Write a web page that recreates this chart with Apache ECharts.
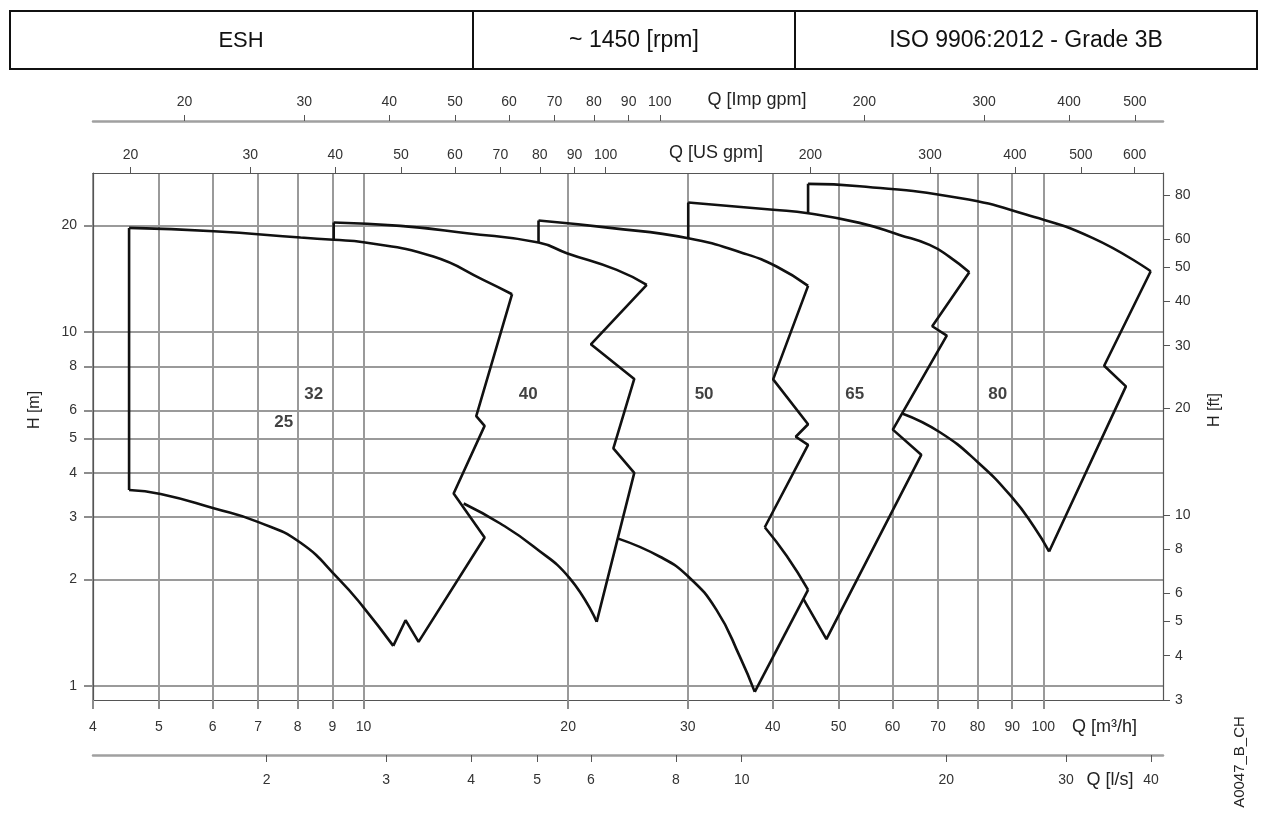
<!DOCTYPE html>
<html>
<head>
<meta charset="utf-8">
<title>ESH ~1450 rpm</title>
<script src="https://cdn.jsdelivr.net/npm/echarts@6/dist/echarts.min.js"></script>
<style>
html, body { margin: 0; padding: 0; background: #fff; }
#chart { width: 1267px; height: 825px; }
</style>
</head>
<body>
<div id="chart"></div>
<script>
// axis ticks
var qTicks = [4, 5, 6, 7, 8, 9, 10, 20, 30, 40, 50, 60, 70, 80, 90, 100];   // m3/h
var hTicks = [1, 2, 3, 4, 5, 6, 8, 10, 20];                                 // m
var ftTicks = [3, 4, 5, 6, 8, 10, 20, 30, 40, 50, 60, 80];
var usGpmTicks = [20, 30, 40, 50, 60, 70, 80, 90, 100, 200, 300, 400, 500, 600];
var impGpmTicks = [20, 30, 40, 50, 60, 70, 80, 90, 100, 200, 300, 400, 500];
var lsTicks = [2, 3, 4, 5, 6, 8, 10, 20, 30, 40];

// envelopes [Q m3/h, H m]
var env25Left = [[4.52, 3.58], [4.52, 19.67]];
var env25Top = [[4.52, 19.67], [6.02, 19.24], [8.08, 18.47], [9.04, 18.2], [10, 17.92], [12.67, 16.32], [15.0, 14.03], [16.54, 12.78]];
var env25Side = [[16.54, 12.78], [14.65, 5.79], [15.07, 5.43], [13.57, 3.50], [15.07, 2.63], [12.05, 1.334], [11.53, 1.536], [11.06, 1.30]];
var env25Bottom = [[4.52, 3.58], [5.03, 3.49], [6.02, 3.18], [6.99, 2.91], [8.08, 2.54], [9.19, 2.01], [10, 1.67], [11.06, 1.30]];

var env40Left = [[9.04, 18.2], [9.04, 20.36]];
var env40Top = [[9.04, 20.36], [11.33, 19.93], [14.2, 19.0], [18.09, 17.88], [19.91, 16.69], [23.58, 14.97], [26.1, 13.58]];
var env40Side = [[26.1, 13.58], [21.6, 9.23], [25.02, 7.37], [23.31, 4.69], [25.02, 4.0], [22.03, 1.52]];
var env40Bottom = [[14.04, 3.28], [15.89, 2.88], [17.79, 2.48], [20.14, 2.01], [22.03, 1.52]];

var env50Left = [[18.09, 17.88], [18.09, 20.63]];
var env50Top = [[18.09, 20.63], [23.05, 19.67], [30.04, 18.39], [36.18, 16.69], [40.51, 15.30], [45.08, 13.49]];
var env50Side = [[45.08, 13.49], [40.05, 7.35], [45.08, 5.49], [43.24, 5.06], [45.08, 4.80], [38.93, 2.81]];
var env50Notch = [[38.93, 2.81], [41.94, 2.33], [45.08, 1.87]];
var env50Side2 = [[45.08, 1.87], [37.63, 0.964]];
var env50Bottom = [[23.7, 2.61], [27.3, 2.32], [30.04, 2.04], [33.07, 1.64], [35.79, 1.21], [37.63, 0.964]];

var env65Left = [[30.04, 18.39], [30.04, 23.19]];
var env65Top = [[30.04, 23.19], [40.05, 22.12], [45.08, 21.64], [53.68, 20.32], [61.44, 18.79], [68.03, 17.61], [72.78, 16.29], [77.84, 14.74]];
var env65Side = [[77.84, 14.74], [68.65, 10.38], [72.11, 9.76], [60.07, 5.30], [66.14, 4.50], [47.97, 1.358], [44.32, 1.77]];

var env80Left = [[45.08, 21.64], [45.08, 26.19]];
var env80Top = [[45.08, 26.19], [53.68, 25.79], [75.27, 23.9], [94.3, 21.45], [118.1, 18.43], [143.9, 14.84]];
var env80Side = [[143.9, 14.84], [122.9, 8.03], [132.3, 7.02], [102.0, 2.40]];
var env80Bottom = [[62.14, 5.88], [70.36, 5.22], [80.1, 4.29], [90.1, 3.40], [97.0, 2.81], [102.0, 2.40]];

// size labels
var sizeNames = ['25', '32', '40', '50', '65', '80'];
var sizeQ = [7.63, 8.45, 17.47, 31.7, 52.8, 85.7];
var sizeH = [5.55, 6.65, 6.65, 6.65, 6.65, 6.65];

var US_GPM = 4.40287, IMP_GPM = 3.66615, LS = 1 / 3.6, FT = 1 / 0.3048;
var qMin = 4, qMax = 150, hMin = 0.9144, hMax = 28.1;

var font = '"Liberation Sans", Arial, sans-serif';
var black = '#111';

function edge(data, smooth) {
    return {
        type: 'line', xAxisIndex: 0, yAxisIndex: 0,
        data: data, symbol: 'none', silent: true,
        smooth: smooth ? 0.5 : false,
        lineStyle: { color: black, width: 2.6 },
        z: 5
    };
}

function logAxis(grid, pos, min, max, ticks, opt) {
    return {
        gridIndex: grid, type: 'log', logBase: 10, min: min, max: max, position: pos,
        axisLine: { show: true, onZero: false, lineStyle: opt.line },
        axisTick: { show: true, inside: false, customValues: ticks, length: opt.tickLen, lineStyle: opt.tick },
        axisLabel: { show: true, customValues: ticks, margin: opt.margin, fontSize: 14, color: '#333', fontFamily: font, hideOverlap: false },
        splitLine: opt.split ? { show: true, lineStyle: { color: '#9a9a9a', width: 2 } } : { show: false },
        minorTick: { show: false }, minorSplitLine: { show: false }
    };
}

var series = [
    edge(env25Left), edge(env25Top, true), edge(env25Side), edge(env25Bottom, true),
    edge(env40Left), edge(env40Top, true), edge(env40Side), edge(env40Bottom, true),
    edge(env50Left), edge(env50Top, true), edge(env50Side), edge(env50Notch, true), edge(env50Side2), edge(env50Bottom, true),
    edge(env65Left), edge(env65Top, true), edge(env65Side),
    edge(env80Left), edge(env80Top, true), edge(env80Side), edge(env80Bottom, true)
];

var labelData = [];
for (var i = 0; i < sizeNames.length; i++) {
    labelData.push({ name: sizeNames[i], value: [sizeQ[i], sizeH[i]] });
}
series.push({
    type: 'scatter', xAxisIndex: 0, yAxisIndex: 0, data: labelData,
    symbolSize: 1, itemStyle: { color: 'rgba(0,0,0,0)' }, silent: true,
    label: { show: true, position: 'inside', formatter: '{b}', fontSize: 17, fontWeight: 'bold', color: '#111', fontFamily: font },
    z: 6
});

var frame = { color: '#555', width: 1.2 };
var greyLine = { color: '#a0a0a0', width: 2.5 };

var option = {
    animation: false,
    backgroundColor: '#fff',
    grid: [
        { left: 93, top: 173, width: 1070, height: 527, outerBoundsMode: 'none' },
        { left: 93, top: 121, width: 1070, height: 1, outerBoundsMode: 'none' },
        { left: 93, top: 754, width: 1070, height: 1, outerBoundsMode: 'none' }
    ],
    xAxis: [
        logAxis(0, 'bottom', qMin, qMax, qTicks, { line: frame, tickLen: 9, tick: { color: '#8c8c8c', width: 2 }, margin: 20, split: true }),
        logAxis(0, 'top', qMin * US_GPM, qMax * US_GPM, usGpmTicks, { line: frame, tickLen: 6, tick: { color: '#555', width: 1 }, margin: 11 }),
        logAxis(1, 'top', qMin * IMP_GPM, qMax * IMP_GPM, impGpmTicks, { line: greyLine, tickLen: 6, tick: { color: '#555', width: 1 }, margin: 12 }),
        logAxis(2, 'bottom', qMin * LS, qMax * LS, lsTicks, { line: greyLine, tickLen: 7, tick: { color: '#555', width: 1 }, margin: 18 })
    ],
    yAxis: [
        logAxis(0, 'left', hMin, hMax, hTicks, { line: frame, tickLen: 9, tick: { color: '#8c8c8c', width: 2 }, margin: 16, split: true }),
        logAxis(0, 'right', hMin * FT, hMax * FT, ftTicks, { line: frame, tickLen: 7, tick: { color: '#555', width: 1 }, margin: 12 }),
        { gridIndex: 1, type: 'value', show: false, min: 0, max: 1 },
        { gridIndex: 2, type: 'value', show: false, min: 0, max: 1 }
    ],
    graphic: [
        { type: 'rect', shape: { x: 10, y: 11, width: 1247, height: 58 }, style: { fill: 'none', stroke: black, lineWidth: 2 }, silent: true },
        { type: 'line', shape: { x1: 473, y1: 11, x2: 473, y2: 69 }, style: { stroke: black, lineWidth: 2 }, silent: true },
        { type: 'line', shape: { x1: 795, y1: 11, x2: 795, y2: 69 }, style: { stroke: black, lineWidth: 2 }, silent: true },
        { type: 'text', x: 241, y: 41, style: { text: 'ESH', font: '22px ' + font, fill: black, align: 'center', verticalAlign: 'middle' } },
        { type: 'text', x: 634, y: 41, style: { text: '~ 1450 [rpm]', font: '23px ' + font, fill: black, align: 'center', verticalAlign: 'middle' } },
        { type: 'text', x: 1026, y: 41, style: { text: 'ISO 9906:2012 - Grade 3B', font: '23px ' + font, fill: black, align: 'center', verticalAlign: 'middle' } },
        { type: 'text', x: 757, y: 100, style: { text: 'Q [Imp gpm]', font: '18px ' + font, fill: '#222', align: 'center', verticalAlign: 'middle' } },
        { type: 'text', x: 716, y: 153, style: { text: 'Q [US gpm]', font: '18px ' + font, fill: '#222', align: 'center', verticalAlign: 'middle' } },
        { type: 'text', x: 1072, y: 727, style: { text: 'Q [m³/h]', font: '18px ' + font, fill: '#222', align: 'left', verticalAlign: 'middle' } },
        { type: 'text', x: 1110, y: 780, style: { text: 'Q [l/s]', font: '18px ' + font, fill: '#222', align: 'center', verticalAlign: 'middle' } },
        { type: 'text', x: 35, y: 410, rotation: Math.PI / 2, style: { text: 'H [m]', font: '16px ' + font, fill: '#222', align: 'center', verticalAlign: 'middle' } },
        { type: 'text', x: 1215, y: 410, rotation: Math.PI / 2, style: { text: 'H [ft]', font: '16px ' + font, fill: '#222', align: 'center', verticalAlign: 'middle' } },
        { type: 'text', x: 1240, y: 762, rotation: Math.PI / 2, style: { text: 'A0047_B_CH', font: '15px ' + font, fill: '#222', align: 'center', verticalAlign: 'middle' } }
    ],
    series: series
};

var myChart = echarts.init(document.getElementById('chart'));
myChart.setOption(option, true);
</script>
</body>
</html>
